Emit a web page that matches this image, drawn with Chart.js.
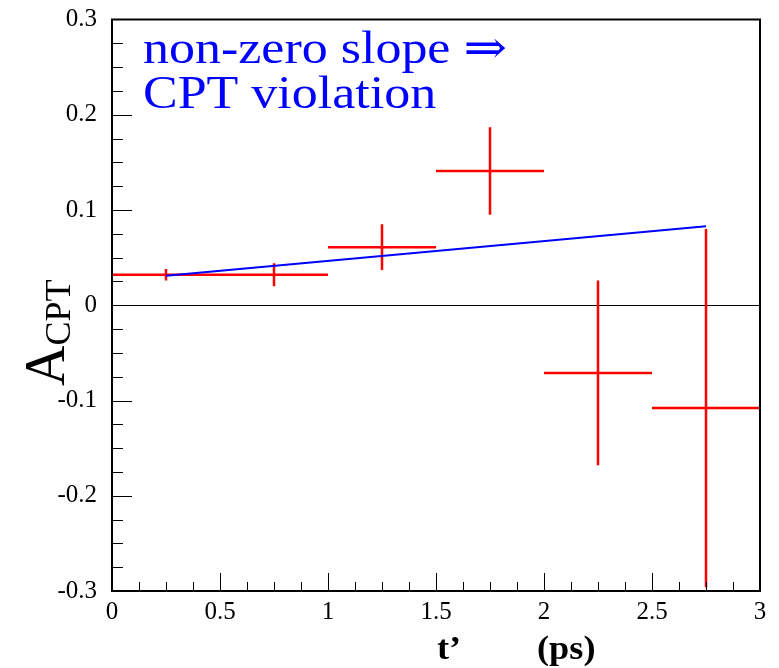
<!DOCTYPE html>
<html>
<head>
<meta charset="utf-8">
<script src="https://cdn.jsdelivr.net/npm/chart.js@4.4.1/dist/chart.umd.min.js"></script>
<style>
  html, body { margin: 0; padding: 0; background: #fff; }
  #wrap { width: 779px; height: 668px; }
</style>
</head>
<body>
<div id="wrap"><canvas id="c" width="779" height="668"></canvas></div>
<script>
// bin centres, asymmetry values and errors
const binCenters = [0.25, 0.75, 1.25, 1.75, 2.25, 2.75];
const binHalfWidth = [0.25, 0.25, 0.25, 0.25, 0.25, 0.25];
const asymValues = [0.032, 0.032, 0.061, 0.141, -0.071, -0.108];
const asymErrors = [0.006, 0.012, 0.024, 0.046, 0.097, 0.188];

// straight-line fit
const fitX = [0.25, 2.75];
const fitY = [0.031, 0.083];

const xTicks = [0, 0.5, 1, 1.5, 2, 2.5, 3];
const yTicks = [-0.3, -0.2, -0.1, 0, 0.1, 0.2, 0.3];

const SERIF = '"Liberation Serif", "DejaVu Serif", serif';

// error bars, zero line, inward ticks, frame and texts
const rootStyle = {
    id: 'rootStyle',
    beforeDatasetsDraw(chart) {
        const { ctx, chartArea: a, scales: { x, y } } = chart;
        ctx.save();
        // zero line
        ctx.strokeStyle = '#000';
        ctx.lineWidth = 1;
        ctx.beginPath();
        ctx.moveTo(a.left, Math.round(y.getPixelForValue(0)) + 0.5);
        ctx.lineTo(a.right, Math.round(y.getPixelForValue(0)) + 0.5);
        ctx.stroke();

        // error crosses
        ctx.strokeStyle = '#ff0000';
        ctx.lineWidth = 2.5;
        binCenters.forEach((c, i) => {
            const px = x.getPixelForValue(c);
            const py = y.getPixelForValue(asymValues[i]);
            ctx.beginPath();
            ctx.moveTo(x.getPixelForValue(c - binHalfWidth[i]), py);
            ctx.lineTo(x.getPixelForValue(c + binHalfWidth[i]), py);
            ctx.moveTo(px, y.getPixelForValue(Math.min(0.3, asymValues[i] + asymErrors[i])));
            ctx.lineTo(px, y.getPixelForValue(Math.max(-0.3, asymValues[i] - asymErrors[i])));
            ctx.stroke();
        });
        ctx.restore();
    },
    afterDatasetsDraw(chart) {
        const { ctx, chartArea: a, scales: { x, y } } = chart;
        ctx.save();
        ctx.strokeStyle = '#000';
        ctx.lineWidth = 1;
        ctx.beginPath();
        // x ticks (4 divisions per major)
        for (let k = 0; k <= 24; k++) {
            const v = k * 0.125;
            const px = Math.round(x.getPixelForValue(v)) + 0.5;
            const len = k % 4 === 0 ? 18 : 9;
            ctx.moveTo(px, a.bottom);
            ctx.lineTo(px, a.bottom - len);
        }
        // y ticks (4 divisions per major)
        for (let k = 0; k <= 24; k++) {
            const v = -0.3 + k * 0.025;
            const py = Math.round(y.getPixelForValue(v)) + 0.5;
            const len = k % 4 === 0 ? 20 : 11;
            ctx.moveTo(a.left, py);
            ctx.lineTo(a.left + len, py);
        }
        ctx.stroke();

        // frame
        ctx.lineWidth = 2;
        ctx.strokeRect(a.left, a.top, a.right - a.left, a.bottom - a.top);

        // blue annotation
        ctx.fillStyle = '#0000ff';
        ctx.font = '46px ' + SERIF;
        ctx.textBaseline = 'alphabetic';
        ctx.save();
        ctx.translate(143, 63);
        ctx.scale(1.13, 1);
        ctx.fillText('non-zero slope \u21D2', 0, 0);
        ctx.restore();
        ctx.save();
        ctx.translate(143, 108);
        ctx.scale(1.13, 1);
        ctx.fillText('CPT violation', 0, 0);
        ctx.restore();

        // axis titles
        ctx.fillStyle = '#000';
        ctx.font = 'bold 33px ' + SERIF;
        ctx.save();
        ctx.translate(437, 659);
        ctx.scale(1.1, 1);
        ctx.fillText('t\u2019', 0, 0);
        ctx.restore();
        ctx.save();
        ctx.translate(537, 659);
        ctx.scale(1.1, 1);
        ctx.fillText('(ps)', 0, 0);
        ctx.restore();

        ctx.save();
        ctx.translate(64, 386);
        ctx.rotate(-Math.PI / 2);
        ctx.font = '56px ' + SERIF;
        ctx.fillText('A', 0, 0);
        const w = ctx.measureText('A').width;
        ctx.font = '36px ' + SERIF;
        ctx.fillText('CPT', w, 6);
        ctx.restore();
        ctx.restore();
    }
};

new Chart(document.getElementById('c'), {
    type: 'scatter',
    data: {
        datasets: [{
            label: 'fit',
            data: fitX.map((v, i) => ({ x: v, y: fitY[i] })),
            showLine: true,
            borderColor: '#0000ff',
            borderWidth: 2,
            pointRadius: 0,
            fill: false
        }]
    },
    options: {
        responsive: false,
        animation: false,
        layout: { padding: { top: 17, right: 19, left: 0, bottom: 0 } },
        plugins: { legend: { display: false }, tooltip: { enabled: false } },
        scales: {
            x: {
                type: 'linear', min: 0, max: 3,
                afterBuildTicks: s => { s.ticks = xTicks.map(v => ({ value: v })); },
                afterFit: s => { s.height = 77; },
                grid: { display: false },
                border: { display: false },
                ticks: {
                    padding: 1,
                    color: '#000',
                    font: { family: SERIF, size: 25, lineHeight: 1 },
                    maxRotation: 0,
                    callback: v => String(Number(v.toFixed(2)))
                }
            },
            y: {
                type: 'linear', min: -0.3, max: 0.3,
                afterBuildTicks: s => { s.ticks = yTicks.map(v => ({ value: v })); },
                afterFit: s => { s.width = 112; },
                grid: { display: false },
                border: { display: false },
                ticks: {
                    padding: 7,
                    color: '#000',
                    font: { family: SERIF, size: 25, lineHeight: 1 },
                    callback: v => String(Number(v.toFixed(2)))
                }
            }
        }
    },
    plugins: [rootStyle]
});
</script>
</body>
</html>
